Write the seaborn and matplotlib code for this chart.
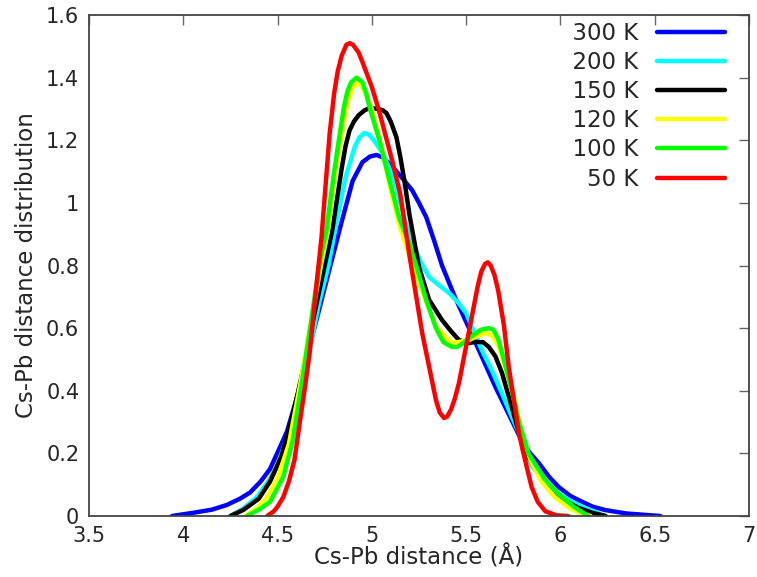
import numpy as np
import pandas as pd
import matplotlib
matplotlib.use("Agg")
import matplotlib.pyplot as plt
import seaborn as sns
from matplotlib.ticker import FormatStrFormatter

# ---------------- data ----------------
labels = ["300 K", "200 K", "150 K", "120 K", "100 K", "50 K"]
colors = ["#0000ff", "#00ffff", "#000000", "#ffff00", "#00ff00", "#ff0000"]

x_300 = [3.94, 4.05, 4.15, 4.23, 4.30, 4.354, 4.41, 4.46, 4.513, 4.55, 4.618, 4.66, 4.708,
         4.776, 4.84, 4.898, 4.95, 4.99, 5.024, 5.06, 5.109, 5.16, 5.214, 5.25, 5.288, 5.33,
         5.372, 5.44, 5.515, 5.59, 5.657, 5.73, 5.795, 5.84, 5.884, 5.94, 5.99, 6.05, 6.095,
         6.17, 6.237, 6.35, 6.53]
y_300 = [0.0, 0.01, 0.02, 0.035, 0.055, 0.075, 0.11, 0.15, 0.22, 0.27, 0.41, 0.52, 0.63,
         0.79, 0.94, 1.07, 1.13, 1.148, 1.153, 1.145, 1.115, 1.08, 1.04, 1.00, 0.955, 0.88,
         0.80, 0.70, 0.60, 0.50, 0.41, 0.32, 0.24, 0.20, 0.17, 0.125, 0.093, 0.065, 0.051,
         0.03, 0.019, 0.008, 0.0]

x_200 = [4.25, 4.32, 4.39, 4.45, 4.497, 4.55, 4.60, 4.66, 4.72, 4.77, 4.81, 4.86, 4.91, 4.935,
         4.96, 4.985, 5.01, 5.056, 5.10, 5.13, 5.18, 5.214, 5.26, 5.304, 5.36, 5.41, 5.46,
         5.50, 5.54, 5.583, 5.64, 5.689, 5.74, 5.78, 5.81, 5.847, 5.92, 5.99, 6.06, 6.13, 6.237]
y_200 = [0.0, 0.025, 0.06, 0.11, 0.157, 0.25, 0.35, 0.50, 0.68, 0.80, 0.93, 1.08, 1.18, 1.21,
         1.223, 1.218, 1.20, 1.16, 1.10, 1.05, 0.935, 0.88, 0.81, 0.763, 0.735, 0.712, 0.68,
         0.648, 0.59, 0.53, 0.46, 0.393, 0.32, 0.265, 0.21, 0.16, 0.11, 0.073, 0.045, 0.026, 0.0]

x_150 = [4.25, 4.32, 4.40, 4.46, 4.52, 4.58, 4.64, 4.70, 4.75, 4.79, 4.84, 4.86, 4.882, 4.905,
         4.93, 4.96, 4.987, 5.03, 5.06, 5.077, 5.10, 5.13, 5.15, 5.172, 5.20, 5.25, 5.304,
         5.372, 5.42, 5.462, 5.51, 5.552, 5.59, 5.62, 5.655, 5.69, 5.742, 5.78, 5.83, 5.89,
         5.95, 6.02, 6.095, 6.17, 6.24]
y_150 = [0.0, 0.02, 0.055, 0.11, 0.19, 0.32, 0.48, 0.66, 0.80, 0.913, 1.11, 1.18, 1.232, 1.26,
         1.28, 1.295, 1.303, 1.30, 1.295, 1.287, 1.26, 1.21, 1.15, 1.073, 0.96, 0.795, 0.69,
         0.626, 0.59, 0.562, 0.552, 0.556, 0.555, 0.54, 0.51, 0.457, 0.348, 0.265, 0.188, 0.13,
         0.093, 0.05, 0.026, 0.01, 0.0]

x_120 = [4.33, 4.39, 4.444, 4.50, 4.56, 4.62, 4.68, 4.73, 4.768, 4.82, 4.87, 4.90, 4.924,
         4.945, 4.97, 5.00, 5.05, 5.10, 5.15, 5.20, 5.25, 5.34, 5.425, 5.515, 5.56, 5.604,
         5.64, 5.673, 5.742, 5.79, 5.84, 5.90, 5.97, 6.05, 6.10, 6.16]
y_120 = [0.0, 0.025, 0.06, 0.12, 0.23, 0.42, 0.63, 0.80, 0.913, 1.15, 1.32, 1.37, 1.382,
         1.375, 1.345, 1.30, 1.18, 1.04, 0.92, 0.83, 0.744, 0.604, 0.552, 0.562, 0.575, 0.584,
         0.575, 0.54, 0.412, 0.28, 0.18, 0.11, 0.06, 0.025, 0.01, 0.0]

x_100 = [4.337, 4.40, 4.46, 4.53, 4.58, 4.63, 4.68, 4.72, 4.759, 4.80, 4.85, 4.87, 4.89, 4.919,
         4.95, 4.97, 4.987, 5.04, 5.093, 5.146, 5.198, 5.235, 5.288, 5.34, 5.38, 5.425, 5.45,
         5.48, 5.53, 5.58, 5.62, 5.645, 5.67, 5.70, 5.742, 5.78, 5.83, 5.92, 5.99, 6.07, 6.147]
y_100 = [0.0, 0.02, 0.045, 0.125, 0.24, 0.43, 0.63, 0.80, 0.913, 1.10, 1.30, 1.355, 1.385,
         1.40, 1.385, 1.35, 1.307, 1.20, 1.073, 0.95, 0.87, 0.80, 0.69, 0.60, 0.555, 0.54,
         0.54, 0.55, 0.575, 0.595, 0.60, 0.595, 0.565, 0.50, 0.40, 0.30, 0.20, 0.115, 0.07,
         0.03, 0.0]

x_50 = [4.445, 4.48, 4.50, 4.53, 4.56, 4.59, 4.618, 4.645, 4.67, 4.70, 4.733, 4.776, 4.80,
        4.819, 4.84, 4.865, 4.882, 4.90, 4.93, 4.95, 4.975, 5.00, 5.04, 5.11, 5.15, 5.20,
        5.267, 5.34, 5.36, 5.383, 5.40, 5.42, 5.44, 5.462, 5.53, 5.56, 5.58, 5.60, 5.615,
        5.63, 5.65, 5.67, 5.70, 5.726, 5.78, 5.80, 5.847, 5.88, 5.92, 5.98, 6.04]
y_50 = [0.0, 0.015, 0.03, 0.06, 0.11, 0.18, 0.30, 0.41, 0.52, 0.70, 0.89, 1.22, 1.35,
        1.42, 1.47, 1.505, 1.51, 1.505, 1.48, 1.45, 1.41, 1.37, 1.29, 1.13, 1.03, 0.83,
        0.584, 0.37, 0.33, 0.313, 0.318, 0.34, 0.375, 0.425, 0.636, 0.73, 0.78, 0.805, 0.81,
        0.80, 0.77, 0.72, 0.61, 0.476, 0.265, 0.21, 0.093, 0.045, 0.015, 0.002, 0.0]

x_ticks = [3.5, 4, 4.5, 5, 5.5, 6, 6.5, 7]
y_ticks = [0, 0.2, 0.4, 0.6, 0.8, 1.0, 1.2, 1.4, 1.6]

series_x = [x_300, x_200, x_150, x_120, x_100, x_50]
series_y = [y_300, y_200, y_150, y_120, y_100, y_50]

frames = []
for lab, xs, ys in zip(labels, series_x, series_y):
    frames.append(pd.DataFrame({"x": xs, "y": ys, "T": lab}))
df = pd.concat(frames, ignore_index=True)

# ---------------- plot ----------------
sns.set_style("white")
plt.rcParams["font.family"] = ["DejaVu Sans"]

fig = plt.figure(figsize=(7.57, 5.77), dpi=100)
ax = fig.add_axes([89 / 757, 61 / 577, 660 / 757, 501 / 577])

sns.lineplot(data=df, x="x", y="y", hue="T", hue_order=labels,
             palette=dict(zip(labels, colors)), sort=False, estimator=None,
             linewidth=3.2, ax=ax)
for ln in ax.get_lines():
    ln.set_solid_joinstyle("round")
    ln.set_solid_capstyle("round")

ax.set_xlim(3.5, 7)
ax.set_ylim(0, 1.6)
ax.set_xticks(x_ticks)
ax.set_yticks(y_ticks)
ax.xaxis.set_major_formatter(FormatStrFormatter("%g"))
ax.yaxis.set_major_formatter(FormatStrFormatter("%g"))
ax.tick_params(direction="in", length=7, width=1, color="#666666",
               top=True, right=True, labelsize=15, pad=7)
for s in ax.spines.values():
    s.set_color("#444444")
    s.set_linewidth(1.3)
    s.set_visible(True)

ax.set_xlabel("Cs-Pb distance (Å)", fontsize=16.5, labelpad=0)
ax.set_ylabel("Cs-Pb distance distribution", fontsize=16.5, labelpad=6)

# legend: label then sample, labels right aligned via figure spaces
handles, labs = ax.get_legend_handles_labels()
padded = [("\u2007" * (6 - len(l))) + l for l in labs]
leg = ax.legend(handles, padded, loc="upper right", frameon=False, markerfirst=False,
                fontsize=16.5, handlelength=3.0, handletextpad=0.8,
                labelspacing=0.27, borderaxespad=0.0, bbox_to_anchor=(0.978, 1.005))
for h in leg.get_lines():
    h.set_linewidth(3.2)

fig.savefig("out.png", dpi=100)
